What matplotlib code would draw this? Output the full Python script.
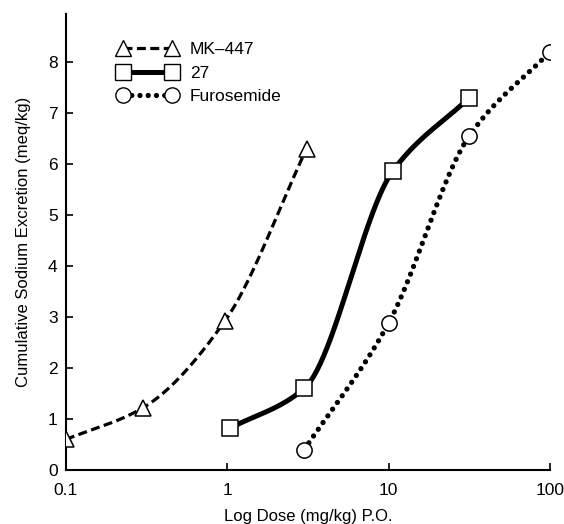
import numpy as np
import matplotlib
matplotlib.use('Agg')
import matplotlib.pyplot as plt

plt.rcParams['font.family'] = ['Liberation Sans', 'DejaVu Sans']

# data
mk447_dose = [0.1, 0.3, 0.97, 3.1]
mk447_na = [0.6, 1.22, 2.93, 6.3]

c27_dose = [1.04, 3.0, 10.6, 31.6]
c27_na = [0.82, 1.6, 5.86, 7.3]

furo_dose = [3.0, 10.0, 31.6, 100.0]
furo_na = [0.4, 2.88, 6.55, 8.2]


def pchip(x, y, n=200):
    # monotone cubic curve through the points, in log-dose space
    x = np.log10(np.asarray(x, float))
    y = np.asarray(y, float)
    h = np.diff(x)
    d = np.diff(y) / h
    m = np.zeros_like(y)
    m[0], m[-1] = d[0], d[-1]
    for k in range(1, len(y) - 1):
        if d[k - 1] * d[k] > 0:
            w1 = 2 * h[k] + h[k - 1]
            w2 = h[k] + 2 * h[k - 1]
            m[k] = (w1 + w2) / (w1 / d[k - 1] + w2 / d[k])
    xs = np.linspace(x[0], x[-1], n)
    idx = np.clip(np.searchsorted(x, xs) - 1, 0, len(x) - 2)
    t = (xs - x[idx]) / h[idx]
    h00 = 2 * t**3 - 3 * t**2 + 1
    h10 = t**3 - 2 * t**2 + t
    h01 = -2 * t**3 + 3 * t**2
    h11 = t**3 - t**2
    ys = (h00 * y[idx] + h10 * h[idx] * m[idx]
          + h01 * y[idx + 1] + h11 * h[idx] * m[idx + 1])
    return 10**xs, ys


fig = plt.figure(figsize=(5.64, 5.24), dpi=100)
ax = fig.add_axes([0.117, 0.103, 0.858, 0.87])

mk = dict(markersize=11, markerfacecolor='white', markeredgecolor='black',
          markeredgewidth=1.1, linestyle='none', zorder=3)

# MK-447
xs, ys = pchip(mk447_dose, mk447_na)
ax.plot(xs, ys, color='black', lw=2.3, linestyle=(0, (2.8, 1.4)))
ax.plot(mk447_dose, mk447_na, marker='^', **mk)

# compound 27
xs, ys = pchip(c27_dose, c27_na)
ax.plot(xs, ys, color='black', lw=3.6, solid_capstyle='butt')
ax.plot(c27_dose, c27_na, marker='s', **mk)

# furosemide
xs, ys = pchip(furo_dose, furo_na)
ax.plot(xs, ys, color='black', lw=3.8, linestyle=(0, (0.01, 1.55)),
        dash_capstyle='round')
ax.plot(furo_dose, furo_na, marker='o', **mk)

# legend handles
h1, = ax.plot([], [], color='black', lw=2.3, linestyle=(0, (2.8, 1.4)),
              marker='^', markersize=11, markerfacecolor='white',
              markeredgecolor='black')
h2, = ax.plot([], [], color='black', lw=3.6, marker='s', markersize=11,
              markerfacecolor='white', markeredgecolor='black')
h3, = ax.plot([], [], color='black', lw=3.8, linestyle=(0, (0.01, 1.55)),
              dash_capstyle='round', marker='o', markersize=11,
              markerfacecolor='white', markeredgecolor='black')
ax.legend([h1, h2, h3], ['MK\u2013447', '27', 'Furosemide'],
          loc='upper left', bbox_to_anchor=(0.075, 0.974), frameon=False,
          numpoints=2, handlelength=3.4, fontsize=12.5, labelspacing=0.5,
          handletextpad=0.75)

ax.set_xscale('log')
ax.set_xlim(0.1, 100)
ax.set_ylim(0, 8.94)
ax.set_xticks([0.1, 1, 10, 100])
ax.set_xticklabels(['0.1', '1', '10', '100'])
ax.xaxis.set_minor_locator(matplotlib.ticker.NullLocator())
ax.set_yticks(range(0, 9))

for s in ['top', 'right']:
    ax.spines[s].set_visible(False)
for s in ['left', 'bottom']:
    ax.spines[s].set_linewidth(1.5)
ax.tick_params(direction='in', length=5, width=1.2, labelsize=12.5)
ax.tick_params(axis='y', pad=6)
ax.tick_params(axis='x', pad=9)

ax.set_xlabel('Log Dose (mg/kg) P.O.', fontsize=12, labelpad=8)
ax.set_ylabel('Cumulative Sodium Excretion (meq/kg)', fontsize=12,
              labelpad=12)

fig.savefig('out.png', dpi=100)
